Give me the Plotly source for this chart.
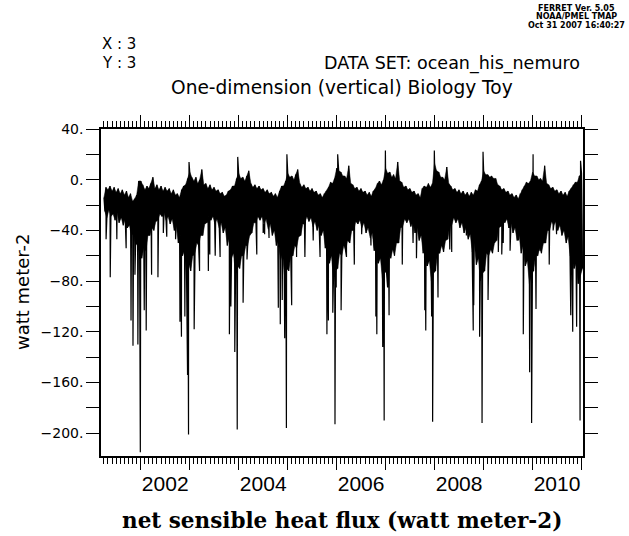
import datetime as dt
import plotly.graph_objects as go

# Semi-monthly upper (hi) and lower (lo) envelope of the daily series.
# Each year: Jan-a, Jan-b, Feb-a, Feb-b, ... Dec-a, Dec-b  (2001 starts in April)
hi_2001 = [-14, -6, -8, -5, -9, -6, -10, -7, -11, -8, -12, -9, -14, -11, -17, -15, -12, -1]
lo_2001 = [-25, -30, -24, -29, -27, -32, -26, -34, -30, -36, -31, -38, -36, -44, -42, -52, -50, -58]
hi_2002 = [-1, -4, -8, -5, -7, -3, 2, -7, -4, -8, -5, -9, -6, -9, -7, -11, -8, -12, -11, -14, -8, -5, -4, 1]
lo_2002 = [-62, -54, -56, -44, -44, -38, -40, -33, -32, -27, -29, -26, -32, -29, -35, -31, -40, -36, -50, -44, -60, -56, -72, -66]
hi_2003 = [6, 2, -1, 2, -3, 0, 8, -4, -3, -7, -4, -8, -6, -9, -8, -11, -10, -13, -12, -9, -8, -5, -5, 1]
lo_2003 = [-72, -60, -58, -50, -52, -44, -44, -35, -34, -29, -32, -29, -35, -31, -38, -34, -42, -38, -52, -46, -62, -58, -74, -68]
hi_2004 = [5, 1, 2, -1, 3, 7, -3, -6, -4, -7, -5, -8, -7, -10, -8, -11, -10, -13, -11, -14, -9, -5, -5, -1]
lo_2004 = [-70, -60, -60, -52, -52, -44, -42, -34, -34, -29, -32, -29, -35, -31, -39, -35, -44, -40, -52, -48, -64, -58, -76, -70]
hi_2005 = [5, 2, 3, 0, 4, 8, -3, -6, -4, -7, -6, -9, -7, -10, -9, -12, -11, -14, -11, -9, -6, -2, -3, 1]
lo_2005 = [-72, -60, -60, -52, -54, -45, -44, -35, -35, -29, -33, -30, -37, -33, -40, -36, -44, -40, -54, -48, -66, -60, -78, -72]
hi_2006 = [9, 7, 6, 3, 3, 1, 11, -3, -4, -7, -6, -9, -7, -10, -9, -12, -10, -13, -9, -7, -3, -1, -4, 0]
lo_2006 = [-70, -58, -60, -52, -56, -48, -50, -40, -40, -33, -35, -32, -38, -34, -42, -38, -46, -42, -56, -50, -66, -62, -78, -72]
hi_2007 = [9, 5, 6, 2, 4, 1, 14, -1, -2, -6, -5, -8, -7, -10, -9, -12, -11, -14, -7, -5, -6, -3, -6, -3]
lo_2007 = [-74, -60, -62, -55, -60, -50, -50, -38, -37, -31, -34, -31, -37, -33, -42, -38, -48, -44, -58, -52, -68, -64, -80, -74]
hi_2008 = [13, 7, 6, 2, 2, 0, 10, -3, -5, -8, -7, -10, -8, -11, -9, -12, -10, -13, -10, -12, -8, -9, -4, -1]
lo_2008 = [-72, -58, -58, -52, -57, -48, -47, -36, -36, -30, -34, -31, -38, -34, -42, -38, -47, -43, -57, -50, -67, -62, -80, -74]
hi_2009 = [7, 4, 4, 2, 3, 1, 1, -4, -5, -8, -7, -10, -9, -12, -11, -14, -12, -15, -11, -8, -5, -2, -3, -1]
lo_2009 = [-72, -58, -60, -55, -58, -50, -48, -38, -37, -31, -34, -31, -38, -34, -42, -38, -48, -44, -58, -52, -68, -64, -82, -75]
hi_2010 = [6, 3, 3, 0, 1, -1, 11, -3, -4, -7, -6, -9, -8, -11, -9, -12, -10, -13, -9, -7, -4, -2, -2, 3]
lo_2010 = [-72, -60, -60, -54, -58, -50, -50, -40, -40, -33, -36, -33, -40, -36, -44, -40, -50, -45, -60, -54, -70, -66, -82, -76]
hi_2011 = [5]
lo_2011 = [-70]

# Isolated single-day spikes (time in fractional years, value in W m-2)
spike_years = [2001.29, 2001.375, 2001.51, 2001.70, 2001.80, 2001.84, 2001.88, 2001.94, 2001.99,
               2002.07, 2002.11, 2002.22, 2002.35, 2002.46, 2002.53, 2002.71, 2002.80, 2002.83, 2002.90, 2002.955, 2002.975, 2002.985,
               2003.09, 2003.20, 2003.38, 2003.41, 2003.52, 2003.62, 2003.81, 2003.84, 2003.92, 2003.97, 2003.98,
               2004.09, 2004.17, 2004.37, 2004.50, 2004.53, 2004.62, 2004.81, 2004.85, 2004.89, 2004.94, 2004.975, 2004.985,
               2005.08, 2005.18, 2005.35, 2005.52, 2005.66, 2005.80, 2005.83, 2005.92, 2005.965, 2005.99, 2006.02,
               2006.09, 2006.14, 2006.20, 2006.36, 2006.51, 2006.70, 2006.75, 2006.80, 2006.82, 2006.94, 2006.97, 2006.995,
               2007.04, 2007.07, 2007.34, 2007.56, 2007.63, 2007.80, 2007.82, 2007.87, 2007.94, 2007.96, 2007.995,
               2008.07, 2008.18, 2008.31, 2008.35, 2008.65, 2008.79, 2008.80, 2008.92, 2008.97, 2008.99,
               2009.06, 2009.09, 2009.30, 2009.37, 2009.40, 2009.54, 2009.71, 2009.77, 2009.81, 2009.94, 2009.98, 2010.01,
               2010.07, 2010.15, 2010.34, 2010.42, 2010.49, 2010.69, 2010.78, 2010.82, 2010.90, 2010.97, 2010.98]
spike_values = [-47, -77, -47, -54, -111, -131, -75, -130, -215,
                -103, -119, -75, -77, -42, -45, -47, -112, -124, -108, -154, -201, 14,
                -118, -72, -72, -59, -60, -61, -122, -100, -136, -197, 18,
                -97, -63, -59, -42, -43, -46, -101, -114, -95, -125, -196, 20,
                -99, -61, -61, -48, -61, -122, -111, -105, -193, -85, 20,
                -103, -48, -61, -67, -43, -52, -45, -108, -122, -132, -190, 23,
                -85, -107, -67, -50, -62, -103, -119, -53, -108, -191, 23,
                -93, -57, -55, -57, -44, -119, -99, -124, -192, 22,
                -48, -95, -57, -59, -50, -56, -48, -53, -122, -152, -192, 20,
                -102, -56, -67, -40, -43, -50, -107, -120, -116, -190, 15]

year_blocks = [(2001, 4, hi_2001, lo_2001), (2002, 1, hi_2002, lo_2002), (2003, 1, hi_2003, lo_2003),
               (2004, 1, hi_2004, lo_2004), (2005, 1, hi_2005, lo_2005), (2006, 1, hi_2006, lo_2006),
               (2007, 1, hi_2007, lo_2007), (2008, 1, hi_2008, lo_2008), (2009, 1, hi_2009, lo_2009),
               (2010, 1, hi_2010, lo_2010), (2011, 1, hi_2011, lo_2011)]

pts = []
hi_pts, lo_pts = [], []
for yr, m0, hi, lo in year_blocks:
    for k, (h, l) in enumerate(zip(hi, lo)):
        month = m0 + k // 2
        half = k % 2
        hp = (dt.datetime(yr, month, 16 if half else 1), h)
        lp = (dt.datetime(yr, month, 23 if half else 8), l)
        pts += [hp, lp]
        hi_pts.append(hp)
        lo_pts.append(lp)


def frac_to_date(t):
    y = int(t)
    return dt.datetime(y, 1, 1) + dt.timedelta(days=(t - y) * 365.0)


for t, v in zip(spike_years, spike_values):
    pts.append((frac_to_date(t), v))
pts.sort(key=lambda p: p[0])

xs = [p[0] for p in pts]
ys = [p[1] for p in pts]

# dense band (solid black between the envelopes)
band_x = [p[0] for p in hi_pts] + [p[0] for p in lo_pts[::-1]]
band_y = [p[1] for p in hi_pts] + [p[1] for p in lo_pts[::-1]]

x_range = [dt.datetime(2001, 3, 10), dt.datetime(2011, 1, 12)]
label_years = [2002, 2004, 2006, 2008, 2010]
y_ticks = list(range(-200, 41, 20))
y_text = [(("%d." % v).replace("-", "\u2212") if v % 40 == 0 else "") for v in y_ticks]

fig = go.Figure()
fig.add_trace(go.Scatter(x=band_x, y=band_y, mode="lines", fill="toself", fillcolor="black",
                         line=dict(color="black", width=0.5), showlegend=False, hoverinfo="skip"))
fig.add_trace(go.Scatter(x=xs, y=ys, mode="lines", line=dict(color="black", width=1.2),
                         showlegend=False, hoverinfo="skip"))
# carrier for the year-label axis
fig.add_trace(go.Scatter(x=x_range, y=[None, None], xaxis="x2", yaxis="y", mode="lines",
                         showlegend=False, hoverinfo="skip"))

fig.update_layout(
    width=629, height=536,
    margin=dict(l=101, r=46, t=129, b=80),
    paper_bgcolor="white", plot_bgcolor="white",
    font=dict(family="DejaVu Sans", color="black"),
    xaxis=dict(type="date", range=x_range, showline=True, linecolor="black", linewidth=1.5,
               mirror="ticks", ticks="outside", ticklen=12, tickwidth=1.3, tickcolor="black",
               tick0="2002-01-01", dtick="M12", showticklabels=False, showgrid=False, zeroline=False,
               minor=dict(ticks="outside", ticklen=6, tickwidth=1, tickcolor="black",
                          tick0="2002-01-01", dtick="M1", showgrid=False)),
    xaxis2=dict(type="date", range=x_range, overlaying="x", anchor="y", side="bottom",
                tickmode="array",
                tickvals=[dt.datetime(y, 7, 2) for y in label_years],
                ticktext=[str(y) for y in label_years],
                ticks="outside", ticklen=9, tickcolor="rgba(0,0,0,0)",
                showline=False, showgrid=False, zeroline=False,
                tickfont=dict(family="Liberation Sans", size=21, color="black")),
    yaxis=dict(range=[-218, 40], tickmode="array", tickvals=y_ticks, ticktext=y_text,
               showline=True, linecolor="black", linewidth=1.5, mirror="ticks",
               ticks="outside", ticklen=13, tickwidth=1.2, tickcolor="black",
               showgrid=False, zeroline=False,
               tickfont=dict(family="DejaVu Sans", size=14, color="black")),
)

plot_l, plot_r, plot_t, plot_b = 101, 583, 129, 456


def px(x):
    return (x - plot_l) / (plot_r - plot_l)


def py(y):
    return (plot_b - y) / (plot_b - plot_t)


ann = [
    dict(text="X : 3", x=px(100), y=py(44), xanchor="left", yanchor="middle",
         font=dict(family="DejaVu Sans", size=15)),
    dict(text="Y : 3", x=px(100), y=py(63), xanchor="left", yanchor="middle",
         font=dict(family="DejaVu Sans", size=15)),
    dict(text="DATA SET: ocean_his_nemuro", x=px(582), y=py(63), xanchor="right", yanchor="middle",
         font=dict(family="DejaVu Sans", size=17.5)),
    dict(text="One-dimension (vertical) Biology Toy", x=px(342), y=py(87), xanchor="center",
         yanchor="middle", font=dict(family="DejaVu Sans", size=18.6)),
    dict(text="<b>FERRET Ver. 5.05</b>", x=px(576), y=py(8), xanchor="center", yanchor="middle",
         font=dict(family="DejaVu Sans", size=8)),
    dict(text="<b>NOAA/PMEL TMAP</b>", x=px(576), y=py(17), xanchor="center", yanchor="middle",
         font=dict(family="DejaVu Sans", size=8)),
    dict(text="<b>Oct 31 2007 16:40:27</b>", x=px(627), y=py(26), xanchor="right", yanchor="middle",
         font=dict(family="DejaVu Sans", size=8)),
    dict(text="watt meter-2", x=px(22), y=py(292), xanchor="center", yanchor="middle",
         textangle=-90, font=dict(family="DejaVu Sans", size=18)),
    dict(text="<b>net sensible heat flux (watt meter-2)</b>", x=px(342), y=py(520),
         xanchor="center", yanchor="middle", font=dict(family="DejaVu Serif", size=21.5)),
]
for a in ann:
    a.update(xref="paper", yref="paper", showarrow=False)
fig.update_layout(annotations=ann)

fig.write_html("out.html")
